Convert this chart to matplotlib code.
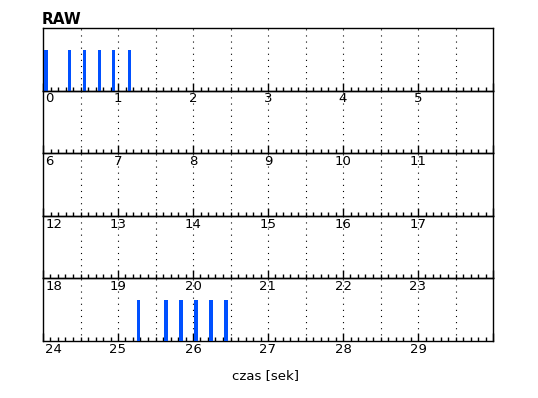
import numpy as np
import matplotlib.pyplot as plt
from matplotlib.ticker import MultipleLocator

# dane: czasy impulsow (s) i ich wysokosc (wzgledna)
spike_times = [0.04, 0.35, 0.55, 0.75, 0.94, 1.15,
               25.27, 25.64, 25.84, 26.04, 26.24, 26.44]
spike_heights = [0.65] * len(spike_times)
row_starts = [0, 6, 12, 18, 24]
row_len = 6

W, H = 538, 398
fig = plt.figure(figsize=(W / 100, H / 100), dpi=100)

left, right = 43 / W, 493 / W
top, bottom = 1 - 28 / H, 1 - 341 / H
rh = (top - bottom) / len(row_starts)

t = np.array(spike_times)
h = np.array(spike_heights)

for i, s in enumerate(row_starts):
    ax = fig.add_axes([left, top - (i + 1) * rh, right - left, rh])
    ax.set_facecolor("none")
    ax.set_xlim(s, s + row_len)
    ax.set_ylim(0, 1)

    # pionowe linie kropkowane co 0.5 s
    for g in np.arange(s + 0.5, s + row_len, 0.5):
        ax.axvline(g, color="black", lw=0.8, ls=(0, (1, 4.5)), zorder=1)

    m = (t >= s) & (t < s + row_len)
    ax.bar(t[m], h[m], width=0.045, color="#0050ff", zorder=3)

    ax.xaxis.set_major_locator(MultipleLocator(1))
    ax.xaxis.set_minor_locator(MultipleLocator(0.1))
    ax.tick_params(axis="x", which="major", direction="in", length=6,
                   width=1, labelbottom=False)
    ax.tick_params(axis="x", which="minor", direction="in", length=3,
                   width=1)
    ax.set_yticks([])
    for sp in ax.spines.values():
        sp.set_linewidth(1)
        sp.set_color("black")

    for k in range(row_len):
        v = s + k
        ax.text(v + (0.03 if k == 0 else 0), -0.03, str(v),
                ha="left" if k == 0 else "center", va="top",
                fontsize=9.5, transform=ax.get_xaxis_transform(),
                clip_on=False)

fig.text(42 / W, 1 - 24 / H, "RAW", fontsize=11, fontweight="bold",
         ha="left", va="baseline")
fig.text(265 / W, 1 - 376 / H, "czas [sek]", fontsize=9.5,
         ha="center", va="center")

plt.savefig("out.png", dpi=100)
